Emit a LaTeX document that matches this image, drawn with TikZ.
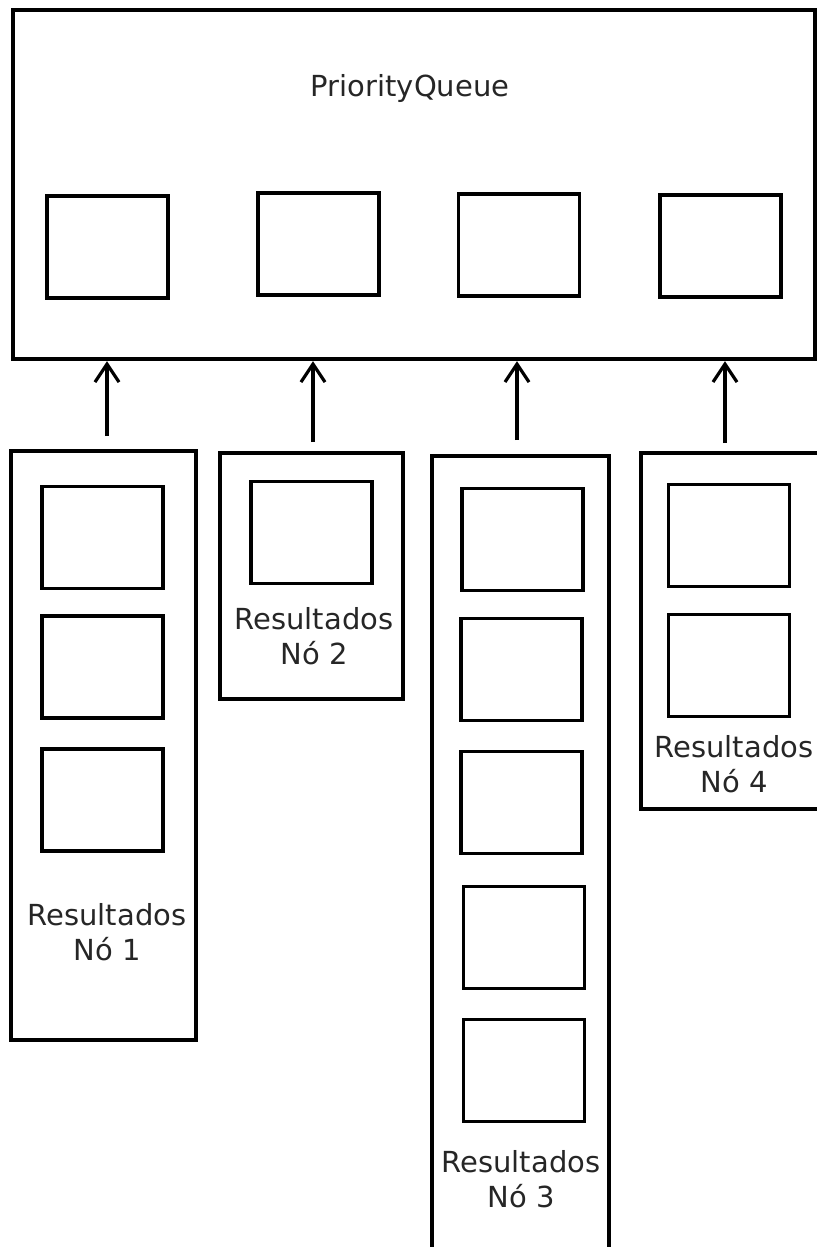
\documentclass[tikz,border=0pt]{standalone}
\usepackage{fontspec}
\setmainfont{DejaVu Sans}
\usetikzlibrary{arrows.meta}

\tikzset{
  caixa/.style={draw, line width=2.2pt, inner sep=0pt},
  slot/.style={draw, line width=1.9pt, inner sep=0pt, minimum width=60.5pt, minimum height=51pt},
  rotulo/.style={text=black!85, font=\fontsize{14.5}{17.5}\selectfont, align=center, inner sep=0pt},
  seta/.style={-{Straight Barb[length=9pt, width=12pt]}, line width=1.6pt}
}

\begin{document}
\begin{tikzpicture}[x=0.5pt, y=-0.5pt]
\useasboundingbox (0,0) rectangle (816,1247);

\node[caixa, minimum width=401pt, minimum height=174.5pt] (pq) at (414,184.5) {};
\node[rotulo] (pqtxt) at (410,88) {PriorityQueue};
\node[slot] (q1) at (107.5,247) {};
\node[slot] (q2) at (318.5,244) {};
\node[slot] (q3) at (519,245) {};
\node[slot] (q4) at (720.5,246) {};

\node[caixa, minimum width=92.5pt, minimum height=294.5pt] (r1) at (103.5,745.5) {};
\node[slot] (r1a) at (102.5,537.5) {};
\node[slot] (r1b) at (102.5,667) {};
\node[slot] (r1c) at (102.5,800) {};
\node[rotulo] (t1) at (107,932) {Resultados\\Nó 1};

\node[caixa, minimum width=91.5pt, minimum height=123pt] (r2) at (311.5,576) {};
\node[slot] (r2a) at (311.5,532.5) {};
\node[rotulo] (t2) at (314,636) {Resultados\\Nó 2};

\node[caixa, minimum width=88.5pt, minimum height=402pt] (r3) at (520.5,858) {};
\node[slot] (r3a) at (522.5,539.5) {};
\node[slot] (r3b) at (521.5,669.5) {};
\node[slot] (r3c) at (521.5,802.5) {};
\node[slot] (r3d) at (524,937.5) {};
\node[slot] (r3e) at (524,1070.5) {};
\node[rotulo] (t3) at (521,1179) {Resultados\\Nó 3};

\node[caixa, minimum width=94.5pt, minimum height=178pt] (r4) at (735.5,631) {};
\node[slot] (r4a) at (729,535.5) {};
\node[slot] (r4b) at (729,665.5) {};
\node[rotulo] (t4) at (734,764) {Resultados\\Nó 4};

\coordinate (s1) at (107,436);
\coordinate (s2) at (313,442);
\coordinate (s3) at (517,440);
\coordinate (s4) at (725,443);
\foreach \i in {1,...,4}
  \draw[seta] (s\i) -- (s\i |- pq.south);
\end{tikzpicture}
\end{document}
